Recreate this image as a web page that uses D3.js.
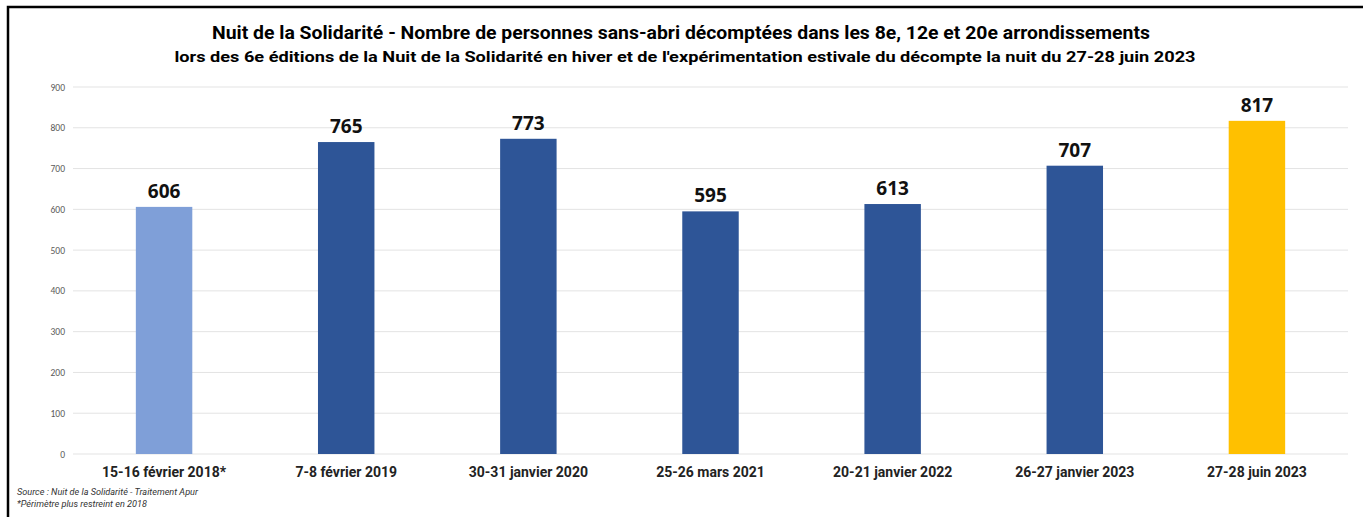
<!DOCTYPE html>
<html>
<head>
<meta charset="utf-8">
<script src="https://cdn.jsdelivr.net/npm/d3@7"></script>
<style>
  body { margin: 0; background: #fff; }
  svg { display: block; }
</style>
</head>
<body>
<svg id="chart" width="1363" height="517"></svg>
<script>
const categories = ["15-16 février 2018*", "7-8 février 2019", "30-31 janvier 2020", "25-26 mars 2021", "20-21 janvier 2022", "26-27 janvier 2023", "27-28 juin 2023"];
const values = [606, 765, 773, 595, 613, 707, 817];
const barColors = ["#7F9FD8", "#2E5597", "#2E5597", "#2E5597", "#2E5597", "#2E5597", "#FFC000"];
const yTicks = [0, 100, 200, 300, 400, 500, 600, 700, 800, 900];
const title1 = "Nuit de la Solidarité - Nombre de personnes sans-abri décomptées dans les 8e, 12e et 20e arrondissements";
const title2 = "lors des 6e éditions de la Nuit de la Solidarité en hiver et de l'expérimentation estivale du décompte la nuit du 27-28 juin 2023";
const notes = ["Source : Nuit de la Solidarité - Traitement Apur", "*Périmètre plus restreint en 2018"];
const notesWidth = [181, 130];

const svg = d3.select("#chart");
const margin = {left: 73, right: 15, top: 87, bottom: 63};
const W = 1363, H = 517;

// frame
svg.append("path")
    .attr("d", "M8,517 V7 H1363")
    .attr("fill", "none")
    .attr("stroke", "#000")
    .attr("stroke-width", 2.5);

// titles
svg.append("text")
    .attr("x", 681).attr("y", 39)
    .attr("text-anchor", "middle")
    .attr("font-family", "Roboto").attr("font-weight", 700).attr("font-size", 17.5)
    .attr("textLength", 938).attr("lengthAdjust", "spacingAndGlyphs")
    .text(title1);
svg.append("text")
    .attr("x", 685).attr("y", 62)
    .attr("text-anchor", "middle")
    .attr("font-family", "Roboto").attr("font-weight", 700).attr("font-size", 15.5)
    .attr("textLength", 1021).attr("lengthAdjust", "spacingAndGlyphs")
    .text(title2);

let x = d3.scaleBand()
    .domain(categories)
    .range([margin.left, W - margin.right])
    .paddingInner(0.69).paddingOuter(0.345);

let y = d3.scaleLinear().domain([0, 900]).range([H - margin.bottom, margin.top]);

// grid
svg.append("g")
    .selectAll("line")
    .data(yTicks)
    .join("line")
    .attr("x1", margin.left).attr("x2", W - margin.right)
    .attr("y1", d => y(d)).attr("y2", d => y(d))
    .attr("stroke", "#E3E3E3").attr("stroke-width", 1);

// y axis labels
let yAxis = svg.append("g")
    .attr("transform", "translate(" + (margin.left - 8) + ",0)")
    .call(d3.axisLeft(y).tickValues(yTicks).tickSize(0).tickPadding(0));
yAxis.select(".domain").remove();
yAxis.selectAll("text")
    .attr("font-family", "Calibri, 'Liberation Sans', sans-serif")
    .attr("font-size", 9.5)
    .attr("fill", "#595959");

// bars
svg.append("g")
    .selectAll("rect")
    .data(values)
    .join("rect")
    .attr("x", (d, i) => x(categories[i]))
    .attr("width", x.bandwidth())
    .attr("y", d => y(d))
    .attr("height", d => y(0) - y(d))
    .attr("fill", (d, i) => barColors[i]);

// value labels
svg.append("g")
    .selectAll("text")
    .data(values)
    .join("text")
    .attr("x", (d, i) => x(categories[i]) + x.bandwidth() / 2)
    .attr("y", d => y(d) - 9)
    .attr("text-anchor", "middle")
    .attr("font-family", "'Open Sans', sans-serif").attr("font-weight", 700).attr("font-size", 19)
    .attr("fill", "#111")
    .text(d => d);

// category labels
let xAxis = svg.append("g")
    .attr("transform", "translate(0," + y(0) + ")")
    .call(d3.axisBottom(x).tickSize(0).tickPadding(0));
xAxis.select(".domain").remove();
xAxis.selectAll("text")
    .attr("dy", 0)
    .attr("y", 23)
    .attr("font-family", "Roboto").attr("font-weight", 700).attr("font-size", 14)
    .attr("fill", "#222");

// notes
svg.append("g")
    .selectAll("text")
    .data(notes)
    .join("text")
    .attr("x", 17)
    .attr("y", (d, i) => 495 + i * 12)
    .attr("font-family", "Roboto").attr("font-style", "italic").attr("font-size", 9.5)
    .attr("textLength", (d, i) => notesWidth[i]).attr("lengthAdjust", "spacingAndGlyphs")
    .attr("fill", "#333")
    .text(d => d);
</script>
</body>
</html>
